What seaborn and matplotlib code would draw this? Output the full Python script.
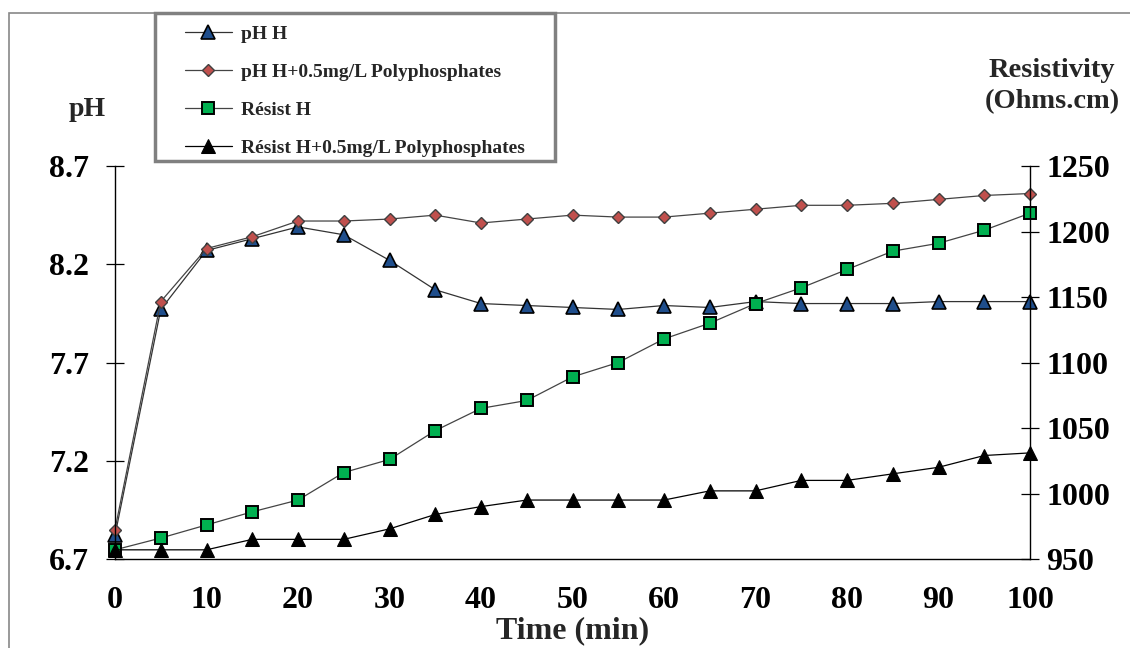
import matplotlib
matplotlib.use("Agg")
import matplotlib.pyplot as plt
import matplotlib.patches as patches
import seaborn as sns

# data
time_min = [0, 5, 10, 15, 20, 25, 30, 35, 40, 45, 50,
            55, 60, 65, 70, 75, 80, 85, 90, 95, 100]
ph_h = [6.82, 7.97, 8.27, 8.33, 8.39, 8.35, 8.22, 8.07, 8.00, 7.99, 7.98,
        7.97, 7.99, 7.98, 8.01, 8.00, 8.00, 8.00, 8.01, 8.01, 8.01]
ph_poly = [6.85, 8.01, 8.28, 8.34, 8.42, 8.42, 8.43, 8.45, 8.41, 8.43, 8.45,
           8.44, 8.44, 8.46, 8.48, 8.50, 8.50, 8.51, 8.53, 8.55, 8.56]
res_h = [957, 966, 976, 986, 995, 1016, 1026, 1048, 1065, 1071, 1089,
         1100, 1118, 1130, 1145, 1157, 1171, 1185, 1191, 1201, 1214]
res_poly = [957, 957, 957, 965, 965, 965, 973, 984, 990, 995, 995,
            995, 995, 1002, 1002, 1010, 1010, 1015, 1020, 1029, 1031]

labels = ["pH H", "pH H+0.5mg/L Polyphosphates",
          "Résist H", "Résist H+0.5mg/L Polyphosphates"]
ph_ticks = [6.7, 7.2, 7.7, 8.2, 8.7]
res_ticks = [950, 1000, 1050, 1100, 1150, 1200, 1250]
x_ticks = list(range(0, 101, 5))

sns.set_style("white")
plt.rcParams["font.family"] = ["Liberation Serif", "DejaVu Serif"]
plt.rcParams["font.weight"] = "bold"

W, H = 1130, 648
fig = plt.figure(figsize=(W / 100, H / 100), dpi=100)
ax = fig.add_axes([115 / W, 1 - 559 / H, (1030 - 115) / W, (559 - 166) / H])
ax2 = ax.twinx()

line_kw = dict(linewidth=0.9, clip_on=False)
sns.lineplot(x=time_min, y=ph_h, ax=ax, color="#333333", marker="^",
             markersize=10, markerfacecolor="#1F4E8C", markeredgecolor="black",
             markeredgewidth=1.2, label=labels[0], legend=False, **line_kw)
sns.lineplot(x=time_min, y=ph_poly, ax=ax, color="#444444", marker="D",
             markersize=6.5, markerfacecolor="#C0504D", markeredgecolor="#404040",
             markeredgewidth=1.0, label=labels[1], legend=False, **line_kw)
sns.lineplot(x=time_min, y=res_h, ax=ax2, color="#444444", marker="s",
             markersize=8.5, markerfacecolor="#00B050", markeredgecolor="black",
             markeredgewidth=1.4, label=labels[2], legend=False, **line_kw)
sns.lineplot(x=time_min, y=res_poly, ax=ax2, color="black", marker="^",
             markersize=10, markerfacecolor="black", markeredgecolor="black",
             label=labels[3], legend=False, **line_kw)

for a in (ax, ax2):
    a.set_xlim(0, 100)
    a.spines["top"].set_visible(False)
    for s in a.spines.values():
        s.set_color("black")
        s.set_linewidth(1.0)
ax.spines["right"].set_visible(False)
ax2.spines["left"].set_visible(False)
ax2.spines["bottom"].set_visible(False)

ax.set_ylim(6.7, 8.7)
ax.set_yticks(ph_ticks)
ax.set_yticklabels([f"{v:.1f}" for v in ph_ticks])
ax2.set_ylim(950, 1250)
ax2.set_yticks(res_ticks)
ax.set_xticks(x_ticks)
ax.set_xticklabels([str(t) if t % 10 == 0 else "" for t in x_ticks])

ax.tick_params(axis="x", direction="inout", length=13, width=0.9,
               labelsize=23, pad=13, colors="black")
ax.tick_params(axis="y", direction="inout", length=13.5, width=0.9,
               labelsize=23, pad=12, colors="black", left=True)
ax2.tick_params(axis="y", direction="inout", length=13.5, width=0.9,
                labelsize=23, pad=5, colors="black", right=True)
ax.grid(False)
ax2.grid(False)

ax.set_ylabel("")
ax2.set_ylabel("")
ax.set_xlabel("Time (min)", fontsize=23, fontweight="bold", labelpad=1)

fig.text(87 / W, 1 - 109 / H, "pH", fontsize=20, fontweight="bold",
         ha="center", va="center")
fig.text(1052 / W, 1 - 86 / H, "Resistivity\n(Ohms.cm)", fontsize=20.5,
         fontweight="bold", ha="center", va="center", linespacing=1.32)

# outer chart frame and legend box
fig.patches.append(patches.Rectangle((9 / W, -0.05), 1.1, 1 - 13 / H + 0.05,
                                     transform=fig.transFigure, fill=False,
                                     edgecolor="#888888", linewidth=1.2))
fig.patches.append(patches.Rectangle((155 / W, 1 - 161 / H), 400 / W, 148 / H,
                                     transform=fig.transFigure, facecolor="white",
                                     edgecolor="#808080", linewidth=2.5, zorder=5))

handles = ax.get_lines()[:2] + ax2.get_lines()[:2]
leg = fig.legend(handles, labels, loc="upper left",
                 bbox_to_anchor=(185 / W, 1 - 25 / H), frameon=False,
                 prop={"size": 14, "weight": "bold"}, handlelength=2.4,
                 handletextpad=0.5, labelspacing=1.05, borderpad=0,
                 borderaxespad=0)
leg.set_zorder(6)

fig.savefig("out.png", dpi=100)
